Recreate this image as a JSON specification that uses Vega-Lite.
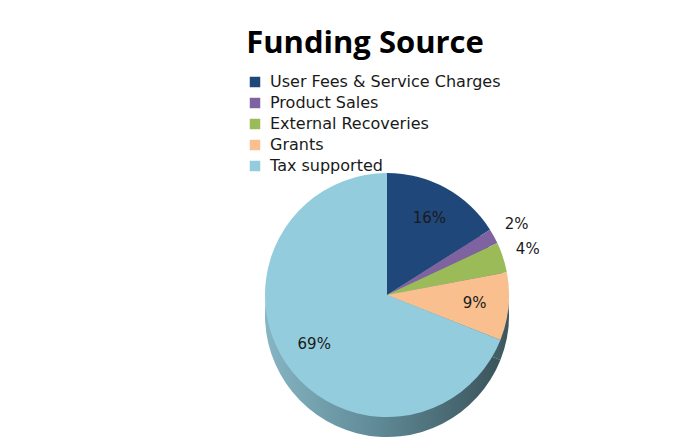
{
  "$schema": "https://vega.github.io/schema/vega-lite/v6.json",
  "autosize": "none",
  "width": 622,
  "height": 270,
  "padding": {"left": 76, "top": 160, "right": 0, "bottom": 10},
  "background": "white",
  "config": {"view": {"stroke": null}, "font": "Open Sans"},
  "title": {
    "text": "Funding Source",
    "anchor": "middle",
    "frame": "group",
    "font": "Open Sans",
    "fontSize": 31,
    "fontWeight": "bold",
    "color": "#000000",
    "dx": -22,
    "offset": 14
  },
  "data": {
    "values": [
      {"source": "User Fees & Service Charges", "pct": 16, "idx": 1, "label": "16%"},
      {"source": "Product Sales", "pct": 2, "idx": 2, "label": "2%"},
      {"source": "External Recoveries", "pct": 4, "idx": 3, "label": "4%"},
      {"source": "Grants", "pct": 9, "idx": 4, "label": "9%"},
      {"source": "Tax supported", "pct": 69, "idx": 5, "label": "69%"}
    ]
  },
  "layer": [
    {
      "mark": {
        "type": "arc",
        "outerRadius": 122,
        "yOffset": 20,
        "color": {
          "gradient": "linear",
          "x1": 0, "x2": 1, "y1": 0, "y2": 0,
          "stops": [
            {"offset": 0, "color": "#86b5c3"},
            {"offset": 0.5, "color": "#5d8793"},
            {"offset": 1, "color": "#3b545b"}
          ]
        }
      },
      "encoding": {
        "theta": {"field": "pct", "type": "quantitative", "stack": true},
        "order": {"field": "idx", "type": "quantitative"}
      }
    },
    {
      "mark": {"type": "arc", "outerRadius": 122},
      "encoding": {
        "theta": {"field": "pct", "type": "quantitative", "stack": true},
        "order": {"field": "idx", "type": "quantitative"},
        "color": {
          "field": "source",
          "type": "nominal",
          "sort": ["User Fees & Service Charges", "Product Sales", "External Recoveries", "Grants", "Tax supported"],
          "scale": {
            "domain": ["User Fees & Service Charges", "Product Sales", "External Recoveries", "Grants", "Tax supported"],
            "range": ["#1f477a", "#7f63a1", "#9bbb59", "#f9bf8f", "#93cddd"]
          },
          "legend": {
            "title": null,
            "orient": "none",
            "legendX": 171,
            "legendY": -86,
            "symbolType": "square",
            "symbolSize": 110,
            "symbolStrokeWidth": 0,
            "symbolOpacity": 1,
            "labelFont": "DejaVu Sans",
            "labelFontSize": 16,
            "labelColor": "#1a1a1a",
            "labelLimit": 400,
            "labelOffset": 7,
            "rowPadding": 5
          }
        }
      }
    },
    {
      "mark": {"type": "text", "radius": 88, "font": "DejaVu Sans", "fontSize": 15, "color": "#1a1a1a"},
      "encoding": {
        "theta": {"field": "pct", "type": "quantitative", "stack": true},
        "order": {"field": "idx", "type": "quantitative"},
        "text": {"condition": {"test": "datum.pct >= 5", "field": "label"}, "value": ""}
      }
    },
    {
      "mark": {"type": "text", "radius": 148, "font": "DejaVu Sans", "fontSize": 15, "color": "#1a1a1a"},
      "encoding": {
        "theta": {"field": "pct", "type": "quantitative", "stack": true},
        "order": {"field": "idx", "type": "quantitative"},
        "text": {"condition": {"test": "datum.pct < 5", "field": "label"}, "value": ""}
      }
    }
  ]
}
